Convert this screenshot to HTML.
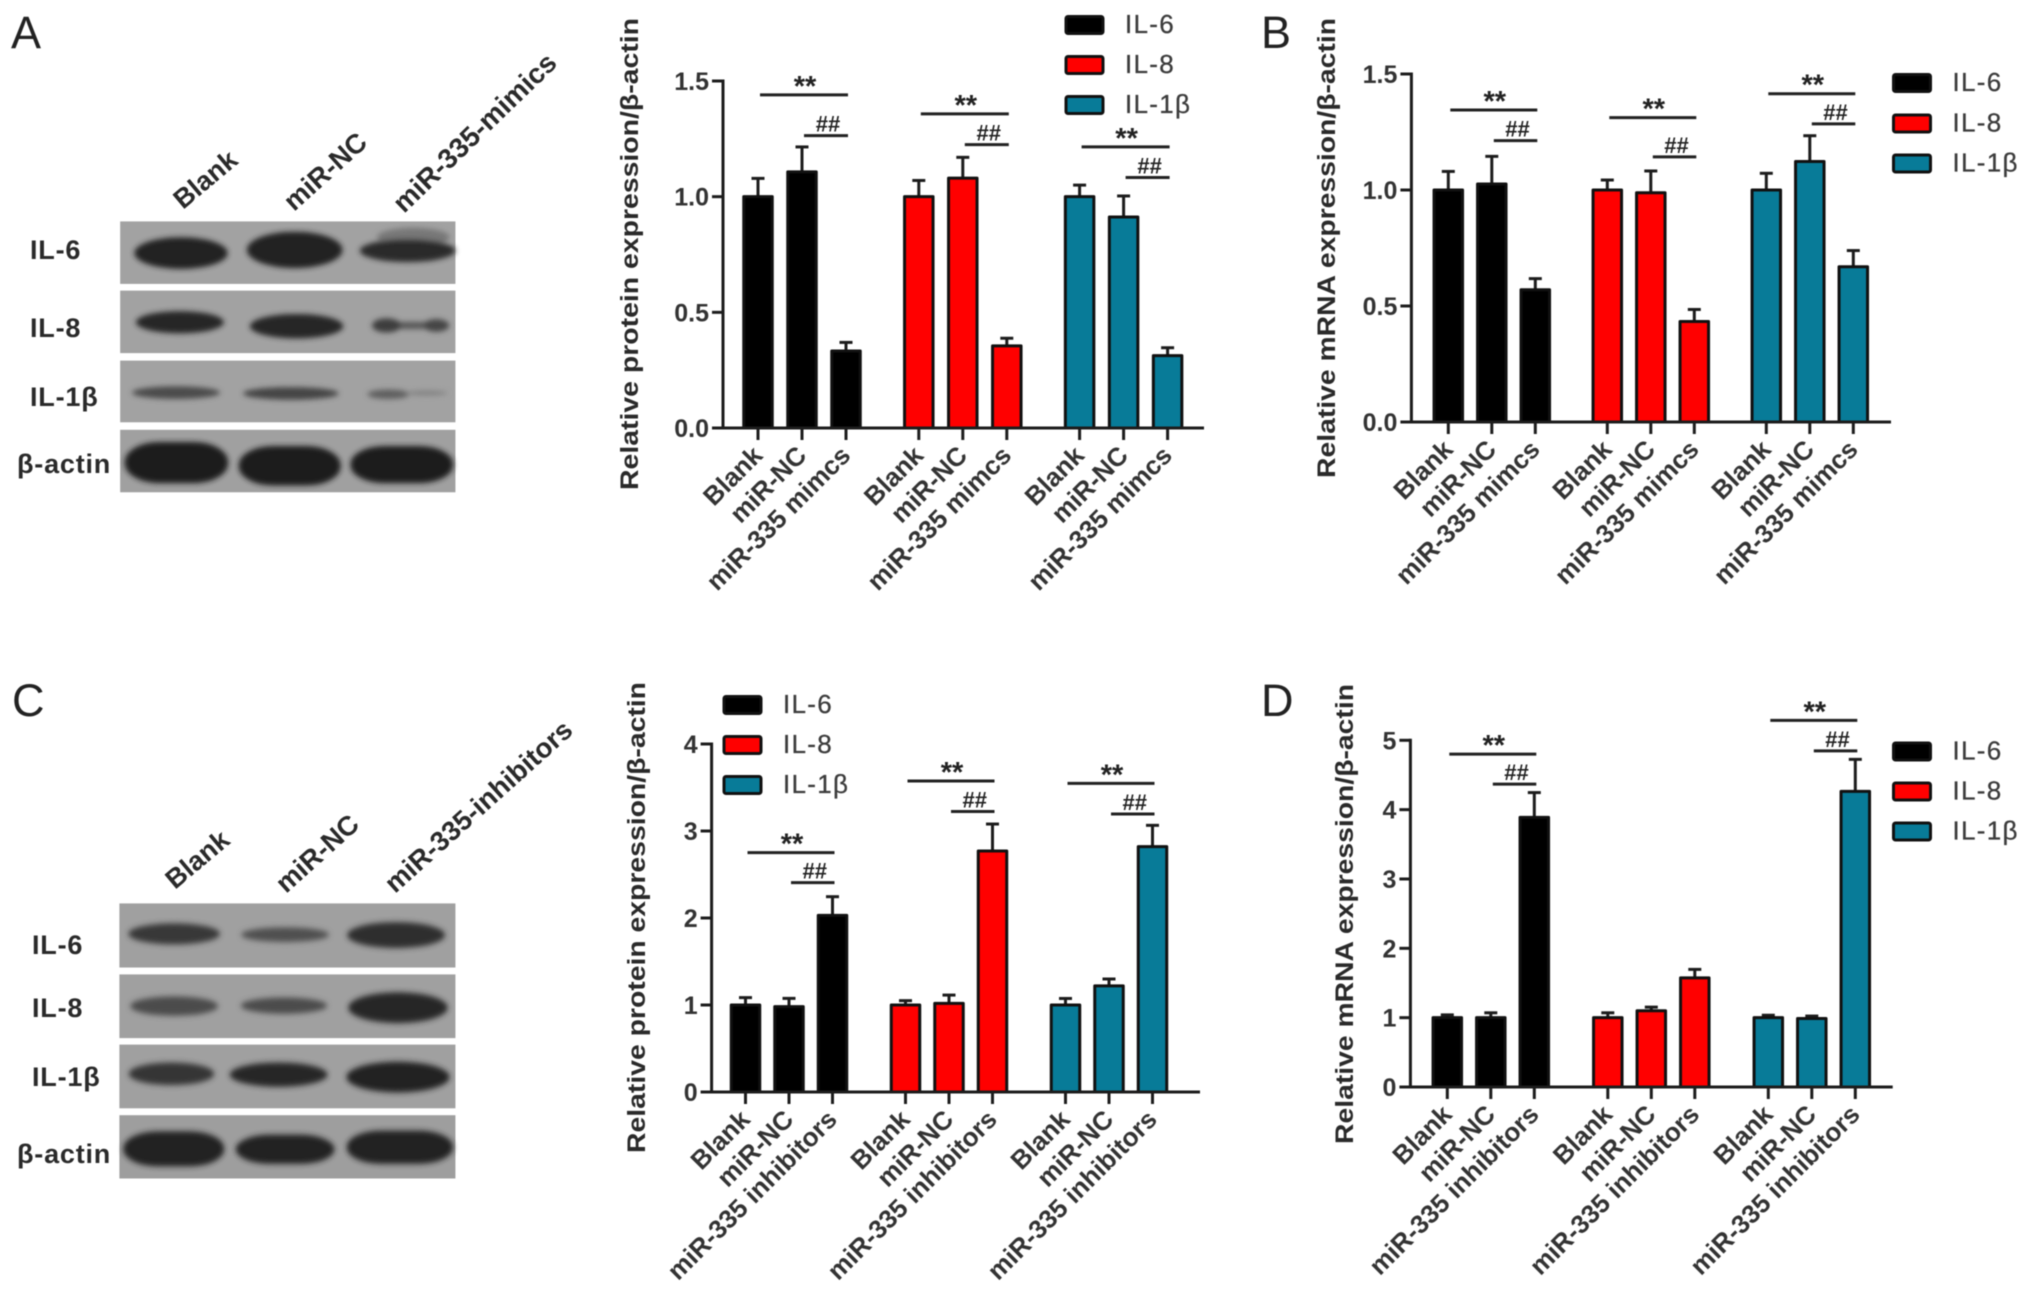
<!DOCTYPE html>
<html lang="en">
<head>
<meta charset="utf-8">
<title>miR-335 IL-6 IL-8 IL-1β expression figure</title>
<style>
html,body{margin:0;padding:0;background:#fff;}
#figure{display:block;filter:blur(0.6px);font-family:"Liberation Sans",Arial,sans-serif;}
</style>
</head>
<body>
<svg id="figure" xmlns="http://www.w3.org/2000/svg" width="2031" height="1296" viewBox="0 0 2031 1296">
<defs>
<filter id="band-blur" x="-30%" y="-60%" width="160%" height="220%"><feGaussianBlur stdDeviation="7"></feGaussianBlur></filter>
</defs>
<rect width="2031" height="1296" fill="#fff"></rect>

<!-- Western blot A -->
<g transform="scale(0.3827,0.3954)">
<rect x="314" y="560" width="876" height="158" fill="#a2a2a2"></rect>
<rect x="314" y="735" width="876" height="158" fill="#a2a2a2"></rect>
<rect x="314" y="912" width="876" height="156" fill="#a2a2a2"></rect>
<rect x="314" y="1087" width="876" height="158" fill="#a0a0a0"></rect>
<g filter="url(#band-blur)">
<ellipse cx="473" cy="640" rx="122" ry="40" fill="#202020"></ellipse>
<ellipse cx="770" cy="632" rx="125" ry="46" fill="#222"></ellipse>
<ellipse cx="1080" cy="600" rx="95" ry="24" fill="#777"></ellipse>
<ellipse cx="1065" cy="634" rx="125" ry="29" fill="#2c2c2c"></ellipse>
<ellipse cx="470" cy="815" rx="115" ry="28" fill="#262626"></ellipse>
<ellipse cx="775" cy="825" rx="122" ry="31" fill="#262626"></ellipse>
<ellipse cx="1075" cy="823" rx="90" ry="9" fill="#555"></ellipse>
<ellipse cx="1010" cy="823" rx="38" ry="18" fill="#3c3c3c"></ellipse>
<ellipse cx="1140" cy="823" rx="34" ry="16" fill="#444"></ellipse>
<ellipse cx="460" cy="993" rx="115" ry="16" fill="#4c4c4c"></ellipse>
<ellipse cx="760" cy="995" rx="125" ry="16" fill="#444"></ellipse>
<ellipse cx="1015" cy="997" rx="55" ry="12" fill="#5e5e5e"></ellipse>
<ellipse cx="1115" cy="994" rx="55" ry="6" fill="#808080"></ellipse>
<rect x="326" y="1118" width="270" height="104" rx="90" ry="50" fill="#1e1e1e"></rect>
<rect x="624" y="1128" width="266" height="100" rx="90" ry="48" fill="#1e1e1e"></rect>
<rect x="916" y="1128" width="268" height="94" rx="90" ry="45" fill="#1e1e1e"></rect>
</g>
</g>
<g font-weight="bold" font-size="27" letter-spacing="0.8" fill="#2a2a2a">
<text x="30" y="259">IL-6</text>
<text x="30" y="337">IL-8</text>
<text x="30" y="406">IL-1β</text>
<text x="17" y="473">β-actin</text>
<text font-size="27" letter-spacing="0" transform="translate(183,210) rotate(-40)">Blank</text>
<text font-size="27.5" letter-spacing="0" transform="translate(294,212) rotate(-42)">miR-NC</text>
<text font-size="28" letter-spacing="0" transform="translate(404,214) rotate(-44)">miR-335-mimics</text>
</g>

<!-- Western blot C -->
<g transform="translate(0,660) scale(0.3827,0.4057)">
<rect x="312" y="600" width="878" height="158" fill="#a0a0a0"></rect>
<rect x="312" y="775" width="878" height="157" fill="#a0a0a0"></rect>
<rect x="312" y="948" width="878" height="157" fill="#a0a0a0"></rect>
<rect x="312" y="1122" width="878" height="156" fill="#9e9e9e"></rect>
<g filter="url(#band-blur)">
<ellipse cx="455" cy="675" rx="120" ry="26" fill="#383838"></ellipse>
<ellipse cx="745" cy="677" rx="115" ry="18" fill="#505050"></ellipse>
<ellipse cx="1035" cy="678" rx="128" ry="32" fill="#2e2e2e"></ellipse>
<ellipse cx="455" cy="853" rx="115" ry="24" fill="#4c4c4c"></ellipse>
<ellipse cx="742" cy="852" rx="113" ry="20" fill="#4c4c4c"></ellipse>
<ellipse cx="1040" cy="857" rx="130" ry="38" fill="#262626"></ellipse>
<ellipse cx="448" cy="1020" rx="112" ry="28" fill="#343434"></ellipse>
<ellipse cx="728" cy="1022" rx="128" ry="30" fill="#262626"></ellipse>
<ellipse cx="1040" cy="1028" rx="135" ry="38" fill="#222"></ellipse>
<rect x="322" y="1162" width="264" height="86" rx="90" ry="42" fill="#202020"></rect>
<rect x="616" y="1170" width="258" height="72" rx="90" ry="36" fill="#202020"></rect>
<rect x="906" y="1160" width="278" height="82" rx="90" ry="40" fill="#202020"></rect>
</g>
</g>
<g font-weight="bold" font-size="27" letter-spacing="0.8" fill="#2a2a2a">
<text x="32" y="954">IL-6</text>
<text x="32" y="1017">IL-8</text>
<text x="32" y="1086">IL-1β</text>
<text x="17" y="1163">β-actin</text>
<text font-size="27" letter-spacing="0" transform="translate(175,890) rotate(-40)">Blank</text>
<text font-size="27.5" letter-spacing="0" transform="translate(286,894) rotate(-42)">miR-NC</text>
<text font-size="27.5" letter-spacing="0" transform="translate(395,894) rotate(-42)">miR-335-inhibitors</text>
</g>

<!-- Panel letters -->
<g font-size="45" fill="#222">
<text x="11" y="48">A</text>
<text x="1261" y="48">B</text>
<text x="12" y="716">C</text>
<text x="1261" y="716">D</text>
</g>

<g id="charts"></g>
</svg>

<script>
// ---- shared categories ----
const seriesNames = ['IL-6', 'IL-8', 'IL-1β'];
const seriesColors = ['#000000', '#ff0000', '#087b98'];

const mimicCategories = ['Blank', 'miR-NC', 'miR-335 mimcs'];
const inhibitorCategories = ['Blank', 'miR-NC', 'miR-335 inhibitors'];

// ---- Panel A: protein, mimics ----
const panelATickValues = [0, 0.5, 1, 1.5];
const panelATickLabels = ['0.0', '0.5', '1.0', '1.5'];
const panelAIl6 = [1.0, 1.107, 0.333];
const panelAIl8 = [1.0, 1.08, 0.355];
const panelAIl1b = [1.0, 0.912, 0.313];
const panelAIl6Err = [0.079, 0.108, 0.037];
const panelAIl8Err = [0.07, 0.09, 0.033];
const panelAIl1bErr = [0.05, 0.091, 0.034];
const panelASigStar = [1.44, 1.358, 1.215];
const panelASigHash = [1.264, 1.225, 1.083];

// ---- Panel B: mRNA, mimics ----
const panelBTickValues = [0, 0.5, 1, 1.5];
const panelBTickLabels = ['0.0', '0.5', '1.0', '1.5'];
const panelBIl6 = [1.0, 1.026, 0.57];
const panelBIl8 = [1.0, 0.988, 0.433];
const panelBIl1b = [1.0, 1.123, 0.669];
const panelBIl6Err = [0.08, 0.119, 0.048];
const panelBIl8Err = [0.043, 0.094, 0.052];
const panelBIl1bErr = [0.072, 0.111, 0.07];
const panelBSigStar = [1.345, 1.312, 1.415];
const panelBSigHash = [1.213, 1.143, 1.285];

// ---- Panel C: protein, inhibitors ----
const panelCTickValues = [0, 1, 2, 3, 4];
const panelCTickLabels = ['0', '1', '2', '3', '4'];
const panelCIl6 = [1.0, 0.981, 2.03];
const panelCIl8 = [1.0, 1.019, 2.77];
const panelCIl1b = [1.0, 1.22, 2.82];
const panelCIl6Err = [0.085, 0.095, 0.215];
const panelCIl8Err = [0.05, 0.095, 0.31];
const panelCIl1bErr = [0.075, 0.079, 0.245];
const panelCSigStar = [2.752, 3.575, 3.547];
const panelCSigHash = [2.407, 3.224, 3.196];

// ---- Panel D: mRNA, inhibitors ----
const panelDTickValues = [0, 1, 2, 3, 4, 5];
const panelDTickLabels = ['0', '1', '2', '3', '4', '5'];
const panelDIl6 = [1.0, 1.0, 3.889];
const panelDIl8 = [1.0, 1.099, 1.573];
const panelDIl1b = [1.0, 0.988, 4.263];
const panelDIl6Err = [0.04, 0.07, 0.357];
const panelDIl8Err = [0.07, 0.053, 0.123];
const panelDIl1bErr = [0.035, 0.035, 0.462];
const panelDSigStar = [4.80, null, 5.287];
const panelDSigHash = [4.368, null, 4.848];

// ---- panel layout (geometry only) ----
const panels = [
  { id: 'a', title: 'Relative protein expression/β-actin', cats: mimicCategories,
    values: [panelAIl6, panelAIl8, panelAIl1b], errs: [panelAIl6Err, panelAIl8Err, panelAIl1bErr],
    star: panelASigStar, hash: panelASigHash, ticks: panelATickValues, tickLabels: panelATickLabels,
    yMax: 1.5, pxBase: 428, pxTop: 81, axisX: 723, left: 712, right: 1204,
    x0: 758, barStep: 44, groupStep: 160.8,
    titleX: 638, titleTop: 18, titleBottom: 490,
    legendX: 1064.5, legendY: [15, 55, 95] },
  { id: 'b', title: 'Relative mRNA expression/β-actin', cats: mimicCategories,
    values: [panelBIl6, panelBIl8, panelBIl1b], errs: [panelBIl6Err, panelBIl8Err, panelBIl1bErr],
    star: panelBSigStar, hash: panelBSigHash, ticks: panelBTickValues, tickLabels: panelBTickLabels,
    yMax: 1.5, pxBase: 422, pxTop: 74, axisX: 1411.4, left: 1402, right: 1891,
    x0: 1448.3, barStep: 43.5, groupStep: 159,
    titleX: 1335, titleTop: 18, titleBottom: 478,
    legendX: 1892, legendY: [73, 113.5, 153.5] },
  { id: 'c', title: 'Relative protein expression/β-actin', cats: inhibitorCategories,
    values: [panelCIl6, panelCIl8, panelCIl1b], errs: [panelCIl6Err, panelCIl8Err, panelCIl1bErr],
    star: panelCSigStar, hash: panelCSigHash, ticks: panelCTickValues, tickLabels: panelCTickLabels,
    yMax: 4, pxBase: 1092, pxTop: 744, axisX: 711.6, left: 701, right: 1200,
    x0: 745.5, barStep: 43.5, groupStep: 160,
    titleX: 645, titleTop: 682, titleBottom: 1153,
    legendX: 722.5, legendY: [695, 735, 775] },
  { id: 'd', title: 'Relative mRNA expression/β-actin', cats: inhibitorCategories,
    values: [panelDIl6, panelDIl8, panelDIl1b], errs: [panelDIl6Err, panelDIl8Err, panelDIl1bErr],
    star: panelDSigStar, hash: panelDSigHash, ticks: panelDTickValues, tickLabels: panelDTickLabels,
    yMax: 5, pxBase: 1087, pxTop: 740.3, axisX: 1410.4, left: 1401.6, right: 1892.7,
    x0: 1447.3, barStep: 43.5, groupStep: 160.5,
    titleX: 1353, titleTop: 684, titleBottom: 1144,
    legendX: 1892, legendY: [741.5, 781.5, 821.5] }
];

const NS = 'http://www.w3.org/2000/svg';
const root = document.getElementById('charts');
const INK = '#1c1c1c';

function mk(parent, tag, attrs, text) {
  const el = document.createElementNS(NS, tag);
  for (const k in attrs) el.setAttribute(k, attrs[k]);
  if (text !== undefined) el.textContent = text;
  parent.appendChild(el);
  return el;
}

function drawPanel(p) {
  const yScale = v => p.pxBase - (v / p.yMax) * (p.pxBase - p.pxTop);
  const xScale = (g, i) => p.x0 + g * p.groupStep + i * p.barStep;
  const barWidth = 28.5;

  const g = mk(root, 'g', {});
  
  

  // y axis title
  const titleY = (p.titleTop + p.titleBottom) / 2;
  const title = mk(g, 'text', {
    'text-anchor': 'middle', 'font-weight': 'bold', 'font-size': 25, fill: '#2a2a2a',
    textLength: p.titleBottom - p.titleTop, lengthAdjust: 'spacingAndGlyphs',
    transform: 'translate(' + p.titleX + ',' + titleY + ') rotate(-90)'
  }, p.title);
  
  

  // error bars and bars
  p.values.forEach((series, s) => {
    series.forEach((v, i) => {
      const cx = xScale(s, i);
      const top = yScale(v + p.errs[s][i]);
      const stem = mk(g, 'line', { x1: cx, x2: cx, y1: yScale(v), y2: top, stroke: INK, 'stroke-width': 3 });
      
      
      const cap = mk(g, 'line', { x1: cx - 6.5, x2: cx + 6.5, y1: top, y2: top, stroke: INK, 'stroke-width': 3 });
      
      
      const bar = mk(g, 'rect', {
        x: cx - barWidth / 2, y: yScale(v), width: barWidth, height: p.pxBase - yScale(v),
        fill: seriesColors[s], stroke: '#111', 'stroke-width': 3, 'stroke-linejoin': 'round'
      });
      
      

      const tick = mk(g, 'line', { x1: cx, x2: cx, y1: p.pxBase, y2: p.pxBase + 12, stroke: INK, 'stroke-width': 3 });
      
      

      const label = mk(g, 'text', {
        'text-anchor': 'end', 'font-weight': 'bold', 'font-size': 26, fill: '#333',
        transform: 'translate(' + (cx + 6) + ',' + (p.pxBase + 29) + ') rotate(-45)'
      }, p.cats[i]);
      
      
    });

    // significance annotations
    if (p.star[s] !== null) {
      const yS = yScale(p.star[s]);
      const lineS = mk(g, 'line', { x1: xScale(s, 0) + 2, x2: xScale(s, 2) + 2, y1: yS, y2: yS, stroke: '#222', 'stroke-width': 3 });
      
      
      const starText = mk(g, 'text', {
        x: (xScale(s, 0) + xScale(s, 2)) / 2 + 3, y: yS + 1, 'text-anchor': 'middle',
        'font-weight': 'bold', 'font-size': 29, fill: '#222'
      }, '**');
      
      
      const yH = yScale(p.hash[s]);
      const lineH = mk(g, 'line', { x1: xScale(s, 1) + 2, x2: xScale(s, 2) + 2, y1: yH, y2: yH, stroke: '#222', 'stroke-width': 3 });
      
      
      const hashText = mk(g, 'text', {
        x: (xScale(s, 1) + xScale(s, 2)) / 2 + 4, y: yH - 4, 'text-anchor': 'middle',
        'font-weight': 'bold', 'font-size': 22, fill: '#222'
      }, '##');
      
      
    }
  });

  // y axis and ticks
  const yAxis = mk(g, 'line', { x1: p.axisX, x2: p.axisX, y1: yScale(p.yMax) - 1.5, y2: p.pxBase, stroke: INK, 'stroke-width': 3 });
  
  
  const xAxis = mk(g, 'line', { x1: p.left, x2: p.right, y1: p.pxBase, y2: p.pxBase, stroke: INK, 'stroke-width': 3 });
  
  
  p.ticks.forEach((t, i) => {
    const y = yScale(t);
    const tick = mk(g, 'line', { x1: p.axisX - 11, x2: p.axisX, y1: y, y2: y, stroke: INK, 'stroke-width': 3 });
    
    
    const lab = mk(g, 'text', {
      x: p.axisX - 14, y: y + 9, 'text-anchor': 'end', 'font-weight': 'bold', 'font-size': 25, fill: '#333'
    }, p.tickLabels[i]);
    
    
  });

  // legend
  seriesNames.forEach((name, s) => {
    const entry = mk(g, 'g', {});
    
    
    const sw = mk(entry, 'rect', {
      x: p.legendX + 1.5, y: p.legendY[s] + 1.5, width: 37, height: 17, rx: 2,
      fill: seriesColors[s], stroke: '#111', 'stroke-width': 3
    });
    
    
    const tx = mk(entry, 'text', {
      x: p.legendX + 60.5, y: p.legendY[s] + 18, 'font-size': 26, 'letter-spacing': 1.3,
      fill: '#3c3c3c', stroke: '#3c3c3c', 'stroke-width': 0.3
    }, name);
    
    
  });
}

panels.forEach(drawPanel);
</script>
</body>
</html>
